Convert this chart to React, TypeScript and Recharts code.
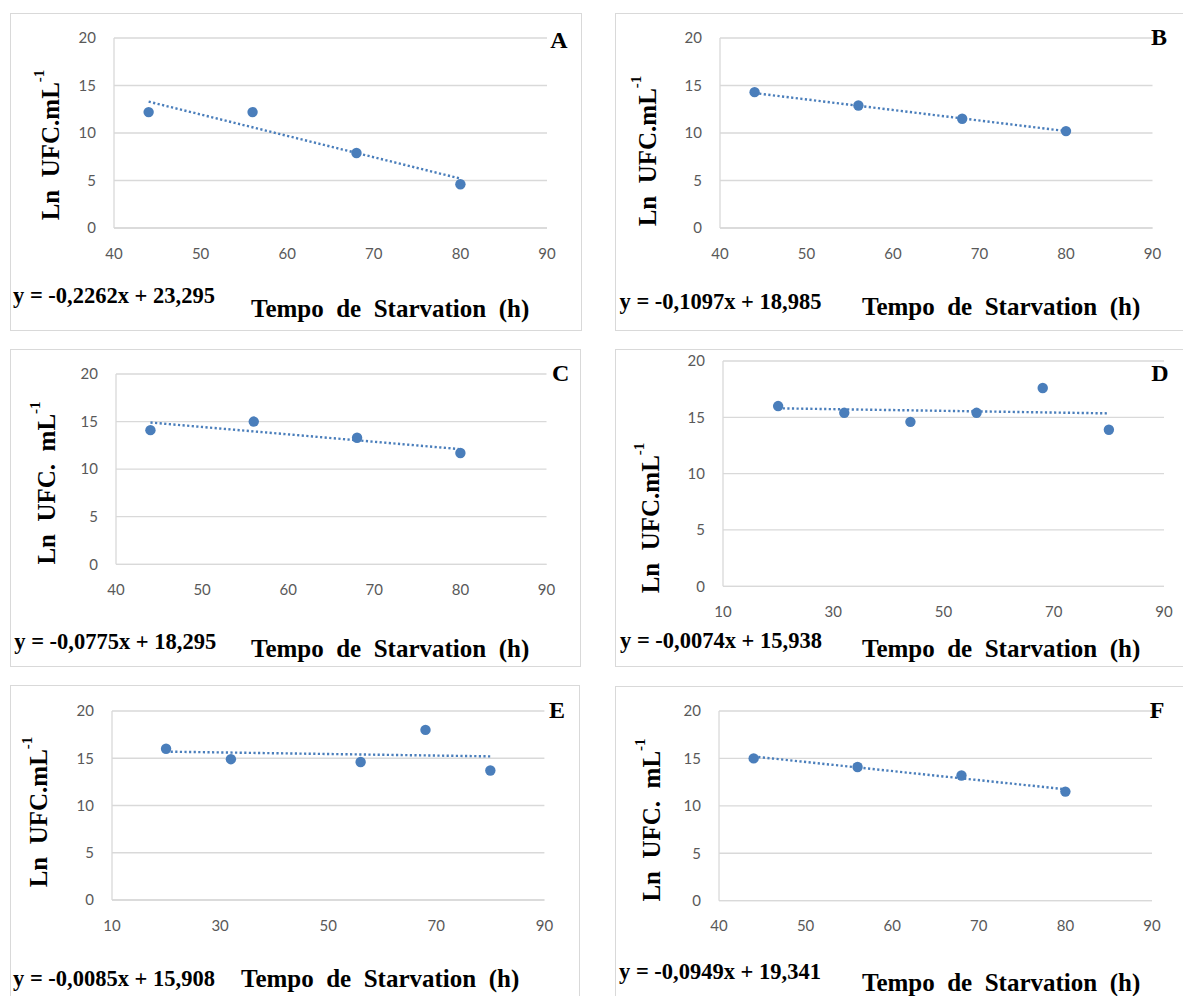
import React from 'react';
import { ScatterChart, Scatter, XAxis, YAxis, CartesianGrid, ReferenceLine } from 'recharts';

// ---- data ----
const hoursABCF = [44, 56, 68, 80];
const hoursD = [20, 32, 44, 56, 68, 80];
const hoursE = [20, 32, 56, 68, 80];

const lnA = [12.2, 12.2, 7.9, 4.6];
const lnB = [14.3, 12.9, 11.5, 10.2];
const lnC = [14.1, 15.0, 13.3, 11.7];
const lnD = [16.0, 15.4, 14.6, 15.4, 17.6, 13.9];
const lnE = [16.0, 14.9, 14.6, 18.0, 13.7];
const lnF = [15.0, 14.1, 13.2, 11.5];

const trendXShort = [44, 80];
const trendXLong = [20, 80];
const trendA = [13.3, 5.2];
const trendB = [14.2, 10.2];
const trendC = [14.9, 12.1];
const trendD = [15.8, 15.35];
const trendE = [15.7, 15.2];
const trendF = [15.2, 11.75];

const xTicks40 = [40, 50, 60, 70, 80, 90];
const xTicks10 = [10, 30, 50, 70, 90];
const yTicks = [0, 5, 10, 15, 20];

const eqA = 'y = -0,2262x + 23,295';
const eqB = 'y = -0,1097x + 18,985';
const eqC = 'y = -0,0775x + 18,295';
const eqD = 'y = -0,0074x + 15,938';
const eqE = 'y = -0,0085x + 15,908';
const eqF = 'y = -0,0949x + 19,341';

const xTitle = 'Tempo  de  Starvation  (h)';
const yTitleMain = 'Ln  UFC.mL';
const yTitleSpaced = 'Ln  UFC.  mL';
const yTitleSup = '-1';

// ---- layout ----
const BLUE = '#4a7ebb';
const GRID = '#d9d9d9';
const SERIF = '"Liberation Serif", "Times New Roman", serif';
const SANS = 'Lato, "Open Sans", sans-serif';

type Rect = { l: number; t: number; r: number; b: number };
type Cfg = {
  letter: string;
  border: Rect;
  plot: Rect;
  xs: number[];
  ys: number[];
  tx: number[];
  ty: number[];
  xDomain: [number, number];
  xTicks: number[];
  eq: string;
  eqPos: [number, number];
  titlePos: [number, number];
  yTitle: string;
  yTitlePos: [number, number];
  letterPos: [number, number];
};

const panels: Cfg[] = [
  {
    letter: 'A', border: { l: 9.5, t: 12.5, r: 582, b: 330.5 }, plot: { l: 114, t: 37.7, r: 547, b: 227.7 },
    xs: hoursABCF, ys: lnA, tx: trendXShort, ty: trendA, xDomain: [40, 90], xTicks: xTicks40,
    eq: eqA, eqPos: [13, 296], titlePos: [251, 307.7], yTitle: yTitleMain, yTitlePos: [50, 145], letterPos: [559, 40],
  },
  {
    letter: 'B', border: { l: 615, t: 12.5, r: 1190, b: 331 }, plot: { l: 720, t: 37.7, r: 1152.5, b: 227.7 },
    xs: hoursABCF, ys: lnB, tx: trendXShort, ty: trendB, xDomain: [40, 90], xTicks: xTicks40,
    eq: eqB, eqPos: [619.5, 301.7], titlePos: [862, 306], yTitle: yTitleMain, yTitlePos: [647, 151], letterPos: [1159, 37],
  },
  {
    letter: 'C', border: { l: 9.5, t: 349, r: 581, b: 666.7 }, plot: { l: 115.5, t: 374, r: 546, b: 564.3 },
    xs: hoursABCF, ys: lnC, tx: trendXShort, ty: trendC, xDomain: [40, 90], xTicks: xTicks40,
    eq: eqC, eqPos: [14.3, 641.7], titlePos: [251, 648], yTitle: yTitleSpaced, yTitlePos: [45.6, 483], letterPos: [560.6, 373],
  },
  {
    letter: 'D', border: { l: 615, t: 349.3, r: 1190, b: 666.7 }, plot: { l: 723, t: 360.7, r: 1164, b: 586 },
    xs: hoursD, ys: lnD, tx: trendXLong, ty: trendD, xDomain: [10, 90], xTicks: xTicks10,
    eq: eqD, eqPos: [620, 641], titlePos: [862, 648], yTitle: yTitleMain, yTitlePos: [650, 518], letterPos: [1160, 373],
  },
  {
    letter: 'E', border: { l: 9.5, t: 685, r: 580, b: 1010 }, plot: { l: 112, t: 711, r: 544.4, b: 900 },
    xs: hoursE, ys: lnE, tx: trendXLong, ty: trendE, xDomain: [10, 90], xTicks: xTicks10,
    eq: eqE, eqPos: [13, 979], titlePos: [241, 978], yTitle: yTitleMain, yTitlePos: [37.7, 812], letterPos: [557, 710],
  },
  {
    letter: 'F', border: { l: 614.6, t: 685.7, r: 1190, b: 1010 }, plot: { l: 719, t: 711, r: 1152, b: 900.7 },
    xs: hoursABCF, ys: lnF, tx: trendXShort, ty: trendF, xDomain: [40, 90], xTicks: xTicks40,
    eq: eqF, eqPos: [619, 972], titlePos: [862, 982], yTitle: yTitleSpaced, yTitlePos: [650.5, 820], letterPos: [1157, 710],
  },
];

const ML = 60;
const MT = 10;
const MR = 10;
const XH = 40;

const Dot = (p: any) => <circle cx={p.cx} cy={p.cy} r={5.2} fill={BLUE} />;

function Panel({ cfg }: { cfg: Cfg }) {
  const { border, plot } = cfg;
  const w = plot.r - plot.l + ML + MR;
  const h = plot.b - plot.t + MT + XH;
  const data = cfg.xs.map((x, i) => ({ x, y: cfg.ys[i] }));
  const tick = { fill: '#595959', fontSize: 15, fontFamily: SANS };
  return (
    <>
      <div
        style={{
          position: 'absolute', left: border.l, top: border.t, width: border.r - border.l, height: border.b - border.t,
          border: `1px solid ${GRID}`, boxSizing: 'border-box', background: '#fff',
        }}
      />
      <div style={{ position: 'absolute', left: plot.l - ML, top: plot.t - MT }}>
        <ScatterChart width={w} height={h} margin={{ top: MT, right: MR, left: 0, bottom: 0 }}>
          <CartesianGrid vertical={false} stroke={GRID} strokeWidth={1.3} />
          <XAxis
            type="number" dataKey="x" domain={cfg.xDomain} ticks={cfg.xTicks} interval={0} height={XH}
            axisLine={{ stroke: GRID, strokeWidth: 1.3 }} tickLine={false} tickSize={0} tickMargin={20} tick={tick}
          />
          <YAxis
            type="number" dataKey="y" domain={[0, 20]} ticks={yTicks} interval={0} width={ML}
            axisLine={{ stroke: GRID, strokeWidth: 1.3 }} tickLine={false} tickSize={0} tickMargin={18} tick={tick}
          />
          <ReferenceLine
            segment={[{ x: cfg.tx[0], y: cfg.ty[0] }, { x: cfg.tx[1], y: cfg.ty[1] }]}
            stroke={BLUE} strokeWidth={2.4} strokeDasharray="2.2 2.4"
          />
          <Scatter data={data} shape={Dot} isAnimationActive={false} />
        </ScatterChart>
      </div>
      <div
        style={{
          position: 'absolute', left: cfg.letterPos[0], top: cfg.letterPos[1], transform: 'translate(-50%,-50%)',
          fontFamily: SERIF, fontWeight: 700, fontSize: 24, lineHeight: 1, color: '#000',
        }}
      >
        {cfg.letter}
      </div>
      <div
        style={{
          position: 'absolute', left: cfg.eqPos[0], top: cfg.eqPos[1], transform: 'translateY(-50%)',
          fontFamily: SERIF, fontWeight: 700, fontSize: 22.5, lineHeight: 1, whiteSpace: 'pre', color: '#000',
        }}
      >
        {cfg.eq}
      </div>
      <div
        style={{
          position: 'absolute', left: cfg.titlePos[0], top: cfg.titlePos[1], transform: 'translateY(-50%)',
          fontFamily: SERIF, fontWeight: 700, fontSize: 25, lineHeight: 1, whiteSpace: 'pre', color: '#000',
        }}
      >
        {xTitle}
      </div>
      <div
        style={{
          position: 'absolute', left: cfg.yTitlePos[0], top: cfg.yTitlePos[1],
          transform: 'translate(-50%,-50%) rotate(-90deg)',
          fontFamily: SERIF, fontWeight: 700, fontSize: 25, lineHeight: 1, whiteSpace: 'pre', color: '#000',
        }}
      >
        {cfg.yTitle}
        <span style={{ fontSize: 15, verticalAlign: 'top', position: 'relative', top: -6 }}>{yTitleSup}</span>
      </div>
    </>
  );
}

export default function App() {
  return (
    <div
      style={{
        position: 'absolute', left: 0, top: 0, width: 1183, height: 996, overflow: 'hidden', background: '#fff',
      }}
    >
      {panels.map((p) => (
        <Panel key={p.letter} cfg={p} />
      ))}
    </div>
  );
}
